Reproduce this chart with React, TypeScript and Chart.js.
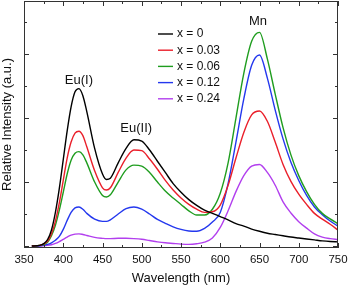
import React, { useEffect, useRef } from 'react';
import { Chart, registerables } from 'chart.js';

Chart.register(...registerables);

const wavelengths = [360, 370, 380, 385, 390, 395, 400, 405, 410, 415, 420, 425, 430, 440, 450, 455, 460, 470, 480, 490, 500, 510, 520, 530, 540, 550, 560, 570, 580, 590, 600, 610, 620, 630, 640, 650, 660, 670, 680, 690, 700, 710, 720, 730, 740, 750];

const seriesLabels = ['x = 0', 'x = 0.03', 'x = 0.06', 'x = 0.12', 'x = 0.24'];
const seriesColors = ['#000000', '#ea1f2a', '#1f9d1f', '#2438ee', '#b23fee'];

const x0 = [0, 0.02, 0.2, 0.5, 1.05, 1.8, 2.7, 3.6, 4.35, 4.82, 4.92, 4.7, 4.2, 3.05, 2.25, 2.08, 2.12, 2.6, 3.05, 3.32, 3.28, 3.0, 2.65, 2.3, 1.95, 1.68, 1.45, 1.27, 1.12, 1.02, 0.92, 0.82, 0.7, 0.62, 0.53, 0.46, 0.4, 0.36, 0.32, 0.28, 0.25, 0.22, 0.19, 0.16, 0.14, 0.13];
const x003 = [0, 0.02, 0.15, 0.38, 0.78, 1.35, 2.05, 2.75, 3.25, 3.53, 3.59, 3.45, 3.1, 2.35, 1.82, 1.75, 1.82, 2.3, 2.75, 3.0, 2.98, 2.72, 2.4, 2.05, 1.75, 1.5, 1.3, 1.15, 1.05, 1.07, 1.28, 1.9, 2.75, 3.55, 4.1, 4.22, 3.9, 3.25, 2.55, 2.02, 1.62, 1.3, 1.02, 0.84, 0.68, 0.5];
const x006 = [0, 0.02, 0.12, 0.32, 0.65, 1.12, 1.68, 2.25, 2.68, 2.9, 2.95, 2.85, 2.6, 2.0, 1.58, 1.53, 1.6, 2.0, 2.38, 2.53, 2.5, 2.3, 2.0, 1.72, 1.5, 1.3, 1.1, 0.97, 0.97, 1.15, 1.65, 2.6, 4.0, 5.4, 6.4, 6.68, 5.85, 4.75, 3.7, 2.85, 2.2, 1.7, 1.3, 1.02, 0.85, 0.7];
const x012 = [0, 0.01, 0.05, 0.1, 0.18, 0.3, 0.52, 0.8, 1.05, 1.19, 1.22, 1.15, 1.02, 0.84, 0.77, 0.77, 0.82, 1.0, 1.17, 1.22, 1.15, 1.0, 0.83, 0.71, 0.6, 0.52, 0.47, 0.46, 0.55, 0.75, 1.05, 1.95, 3.25, 4.6, 5.65, 5.97, 5.25, 4.25, 3.35, 2.62, 2.05, 1.58, 1.22, 0.98, 0.78, 0.62];
const x024 = [0, 0, 0.02, 0.04, 0.08, 0.14, 0.21, 0.28, 0.34, 0.37, 0.38, 0.36, 0.33, 0.27, 0.24, 0.23, 0.23, 0.24, 0.24, 0.23, 0.21, 0.17, 0.13, 0.1, 0.08, 0.06, 0.05, 0.07, 0.12, 0.25, 0.58, 1.1, 1.7, 2.2, 2.5, 2.55, 2.3, 1.9, 1.38, 1.03, 0.76, 0.56, 0.38, 0.28, 0.23, 0.2];

const seriesValues = [x0, x003, x006, x012, x024];

const xMin = 350;
const xMax = 750;
const xMajorStep = 50;
const xMinorStep = 25;
const yMin = -0.0625;
const yMax = 7.66;
const yTickValues = [0, 1, 2, 3, 4, 5, 6, 7];

const peakLabels = ['Eu(I)', 'Eu(II)', 'Mn'];
const peakX = [420, 493, 648];
const peakY = [5.19, 3.69, 7.03];

const FONT = "'Liberation Sans', Arial, Helvetica, sans-serif";

const framePlugin = {
  id: 'framePlugin',
  afterDraw(chart: any) {
    const { ctx, chartArea } = chart;
    const { left, right, top, bottom } = chartArea;
    const xs = chart.scales.x;
    const ys = chart.scales.y;
    ctx.save();
    ctx.strokeStyle = '#333';
    ctx.lineWidth = 1;
    ctx.strokeRect(Math.round(left) + 0.5, Math.round(top) + 0.5, Math.round(right - left) - 1, Math.round(bottom - top) - 1);
    ctx.beginPath();
    for (let v = xMin; v <= xMax; v += xMinorStep) {
      const px = Math.round(xs.getPixelForValue(v)) + 0.5;
      const len = v % xMajorStep === 0 ? 5 : 3;
      ctx.moveTo(px, bottom);
      ctx.lineTo(px, bottom - len);
      ctx.moveTo(px, top);
      ctx.lineTo(px, top + len);
    }
    for (const v of yTickValues) {
      const py = Math.round(ys.getPixelForValue(v)) + 0.5;
      const len = v % 2 === 0 ? 5 : 3;
      ctx.moveTo(left, py);
      ctx.lineTo(left + len, py);
      ctx.moveTo(right, py);
      ctx.lineTo(right - len, py);
    }
    ctx.stroke();

    // peak annotations
    ctx.fillStyle = '#111';
    ctx.font = `13px ${FONT}`;
    ctx.textAlign = 'center';
    ctx.textBaseline = 'middle';
    peakLabels.forEach((t, i) => {
      ctx.fillText(t, xs.getPixelForValue(peakX[i]), ys.getPixelForValue(peakY[i]));
    });

    // legend
    ctx.font = `12px ${FONT}`;
    ctx.textAlign = 'left';
    const lx = left + 134;
    const ly = top + 33;
    seriesLabels.forEach((t, i) => {
      const y = ly + i * 16.2;
      ctx.strokeStyle = seriesColors[i];
      ctx.lineWidth = 1.4;
      ctx.beginPath();
      ctx.moveTo(lx, y);
      ctx.lineTo(lx + 15, y);
      ctx.stroke();
      ctx.fillStyle = '#111';
      ctx.fillText(t, lx + 19, y);
    });
    ctx.restore();
  },
};

export default function App() {
  const canvasRef = useRef<HTMLCanvasElement | null>(null);

  useEffect(() => {
    const canvas = canvasRef.current;
    if (!canvas) return;
    Chart.defaults.font.family = FONT;
    const chart = new Chart(canvas, {
      type: 'line',
      data: {
        datasets: seriesValues.map((vals, i) => ({
          label: seriesLabels[i],
          data: wavelengths.map((w, j) => ({ x: w, y: vals[j] })),
          borderColor: seriesColors[i],
          backgroundColor: seriesColors[i],
          borderWidth: 1.4,
          pointRadius: 0,
          fill: false,
          cubicInterpolationMode: 'monotone' as const,
        })),
      },
      options: {
        responsive: false,
        animation: false,
        devicePixelRatio: 1,
        layout: { padding: { left: 0, right: 11, top: 1, bottom: 0 } },
        plugins: { legend: { display: false }, tooltip: { enabled: false } },
        scales: {
          x: {
            type: 'linear',
            min: xMin,
            max: xMax,
            grid: { display: false, drawTicks: false },
            border: { display: false },
            ticks: {
              stepSize: xMajorStep,
              autoSkip: false,
              maxRotation: 0,
              padding: 5,
              color: '#111',
              font: { size: 11.5, family: FONT },
            },
            title: {
              display: true,
              text: 'Wavelength (nm)',
              color: '#111',
              font: { size: 13, family: FONT },
              padding: { top: 0, bottom: 0 },
            },
            afterFit: (s: any) => {
              s.height = 38;
              s.paddingLeft = 0;
              s.paddingRight = 0;
            },
          },
          y: {
            min: yMin,
            max: yMax,
            grid: { display: false, drawTicks: false },
            border: { display: false },
            ticks: { display: false, stepSize: 1 },
            title: {
              display: true,
              text: 'Relative Intensity (a.u.)',
              color: '#111',
              font: { size: 13, family: FONT },
              padding: { top: 0, bottom: 0 },
            },
            afterFit: (s: any) => {
              s.width = 24;
              s.paddingTop = 0;
              s.paddingBottom = 0;
            },
          },
        },
      },
      plugins: [framePlugin],
    });
    return () => chart.destroy();
  }, []);

  return (
    <div style={{ position: 'absolute', left: 0, top: 0, width: 349, height: 286, background: '#fff' }}>
      <canvas ref={canvasRef} width={349} height={286} style={{ width: 349, height: 286, display: 'block' }} />
    </div>
  );
}
